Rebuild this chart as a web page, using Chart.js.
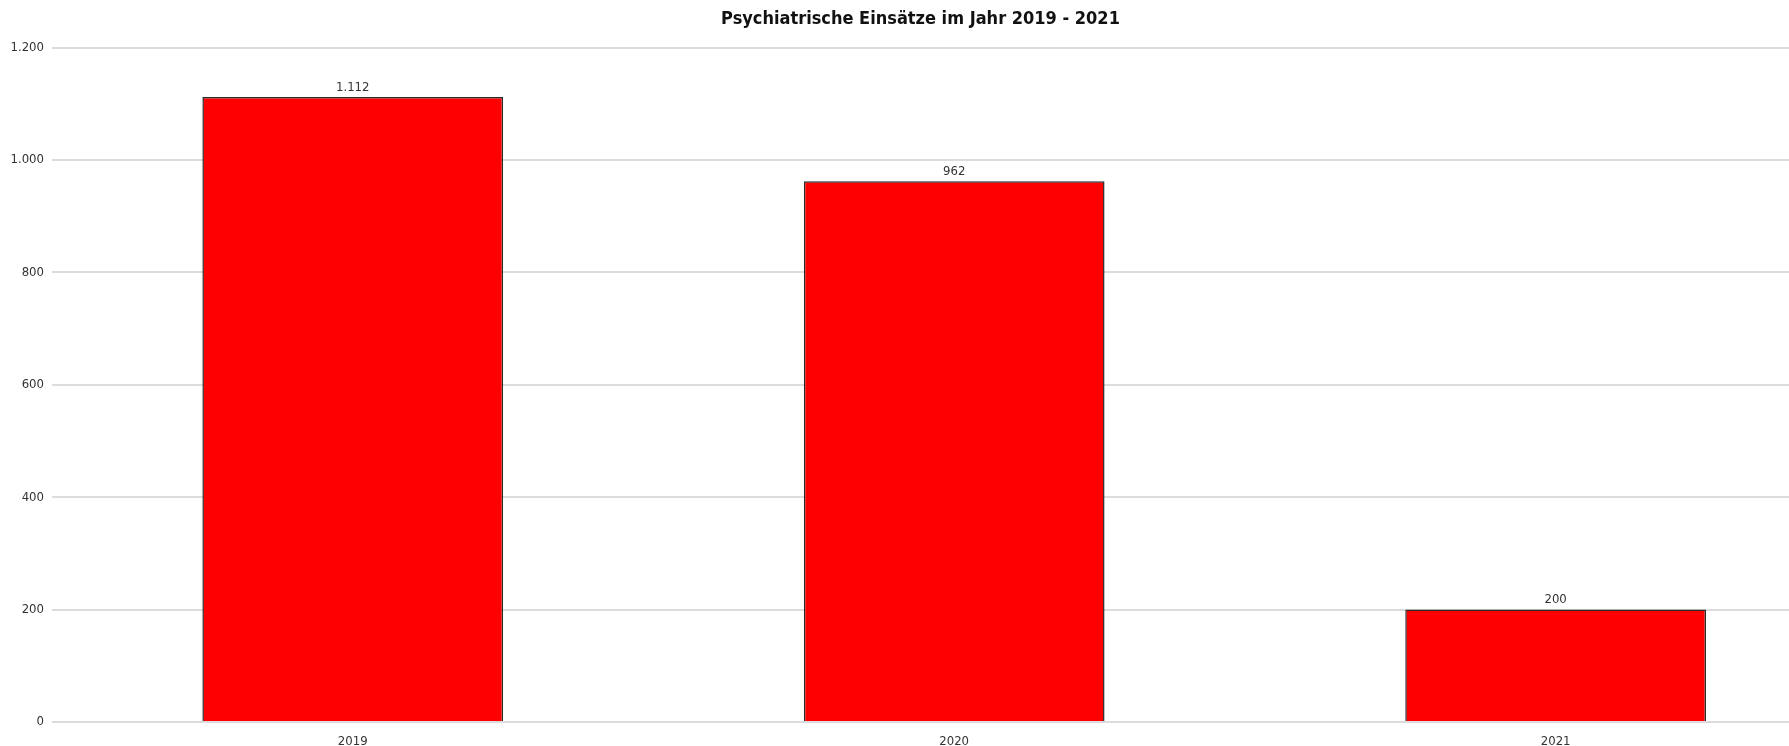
<!DOCTYPE html>
<html>
<head>
<meta charset="utf-8">
<script src="https://cdn.jsdelivr.net/npm/chart.js@4/dist/chart.umd.min.js"></script>
<style>
  html, body { margin: 0; padding: 0; background: #fff; }
  #wrap { width: 1789px; height: 746px; }
</style>
</head>
<body>
<div id="wrap"><canvas id="myChart" width="1789" height="746"></canvas></div>
<script>
// Daten
const years = ['2019', '2020', '2021'];
const einsaetze = [1112, 962, 200];
const yTicks = [0, 200, 400, 600, 800, 1000, 1200];

const fontFam = "'Liberation Sans Narrow', 'Arial Narrow', 'DejaVu Sans Condensed', 'Liberation Sans', Arial, sans-serif";

// Tausenderpunkt wie im Original (1.112)
function fmt(v) {
  return String(v).replace(/\B(?=(\d{3})+(?!\d))/g, '.');
}

// Werte über den Balken
const valueLabels = {
  id: 'valueLabels',
  afterDatasetsDraw(chart) {
    const ctx = chart.ctx;
    const meta = chart.getDatasetMeta(0);
    ctx.save();
    ctx.font = '13px ' + fontFam;
    ctx.fillStyle = '#333';
    ctx.textAlign = 'center';
    ctx.textBaseline = 'bottom';
    meta.data.forEach((bar, i) => {
      ctx.fillText(fmt(einsaetze[i]), bar.x, bar.y - 3);
    });
    ctx.restore();
  }
};

const ctx = document.getElementById('myChart').getContext('2d');
new Chart(ctx, {
  type: 'bar',
  data: {
    datasets: [{
      label: 'Einsätze',
      data: einsaetze.map((v, i) => ({ x: i, y: v })),
      backgroundColor: '#fe0000',
      borderColor: '#2b2b2b',
      borderWidth: 1.5,
      barPercentage: 0.5,
      categoryPercentage: 1
    }]
  },
  options: {
    responsive: false,
    animation: false,
    layout: { padding: 0 },
    plugins: {
      legend: { display: false },
      tooltip: { enabled: false },
      title: {
        display: true,
        fullSize: false,
        text: 'Psychiatrische Einsätze im Jahr 2019 - 2021',
        color: '#111',
        font: { family: fontFam, size: 18, weight: 'bold' },
        padding: { top: 9, bottom: 17 }
      }
    },
    scales: {
      x: {
        type: 'linear',
        offset: false,
        min: -0.5,
        max: 2.388,
        afterBuildTicks(scale) {
          scale.ticks = years.map((y, i) => ({ value: i }));
        },
        afterFit(scale) { scale.height = 24; },
        grid: { display: false, offset: false },
        border: { display: false },
        ticks: {
          color: '#333',
          padding: 4,
          font: { family: fontFam, size: 13 },
          callback: (v) => years[v]
        }
      },
      y: {
        min: 0,
        max: 1200,
        afterBuildTicks(scale) {
          scale.ticks = yTicks.map(v => ({ value: v }));
        },
        afterFit(scale) { scale.width = 52; },
        grid: { color: '#dcdcdc', lineWidth: 2, drawTicks: false },
        border: { display: false },
        ticks: {
          color: '#333',
          padding: 8,
          font: { family: fontFam, size: 13 },
          callback: (v) => fmt(v)
        }
      }
    }
  },
  plugins: [valueLabels]
});
</script>
</body>
</html>
